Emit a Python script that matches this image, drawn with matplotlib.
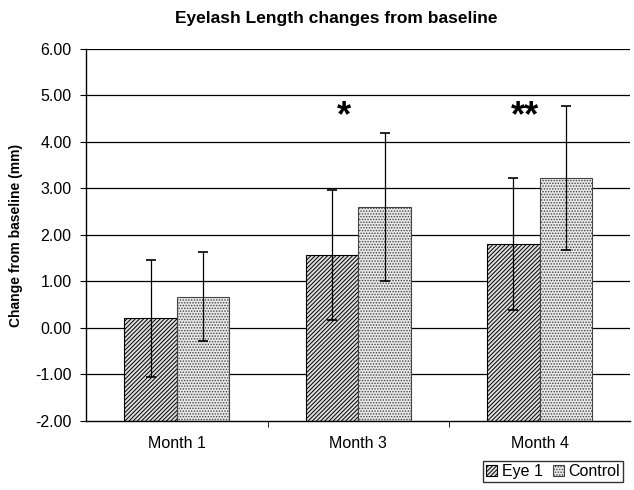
import numpy as np
import matplotlib
matplotlib.use("Agg")
import matplotlib.pyplot as plt

plt.rcParams['font.family'] = ['Liberation Sans', 'DejaVu Sans']
plt.rcParams['hatch.linewidth'] = 0.7

# data
months = ["Month 1", "Month 3", "Month 4"]
eye1 = [0.21, 1.57, 1.80]
eye1_err = [1.26, 1.40, 1.42]
control = [0.67, 2.60, 3.22]
control_err = [0.96, 1.60, 1.55]
stars = ["", "*", "**"]
yticks = [-2, -1, 0, 1, 2, 3, 4, 5, 6]

base = -2.0
w = 0.29
x = np.arange(len(months))

fig = plt.figure(figsize=(6.34, 4.90), dpi=100)
ax = fig.add_axes([0.136, 0.141, 0.858, 0.759])

for yv in yticks[1:]:
    ax.axhline(yv, color='black', lw=0.9, zorder=1)

b1 = ax.bar(x - w / 2, np.array(eye1) - base, w, bottom=base, facecolor='#dedede',
            edgecolor='black', hatch='////////', lw=0.8, zorder=2, label='Eye 1')
b2 = ax.bar(x + w / 2, np.array(control) - base, w, bottom=base, facecolor='#e8e8e8',
            edgecolor='#444444', hatch='......', lw=0.8, zorder=2, label='Control')
ax.errorbar(x - w / 2, eye1, yerr=eye1_err, fmt='none', ecolor='black',
            elinewidth=0.9, capsize=3.5, capthick=1.2, zorder=3)
ax.errorbar(x + w / 2, control, yerr=control_err, fmt='none', ecolor='black',
            elinewidth=0.9, capsize=3.5, capthick=1.2, zorder=3)

for i, s in enumerate(stars):
    if s:
        ax.text(x[i] - 0.08, 4.55, s, ha='center', va='center', fontsize=26,
                fontweight='bold')

ax.set_xlim(-0.5, 2.5)
ax.set_ylim(-2, 6)
ax.set_yticks(yticks)
ax.set_yticklabels([f"{v:.2f}" for v in yticks], fontsize=11.5)
ax.set_xticks(x)
ax.set_xticklabels(months, fontsize=11.5)
ax.tick_params(axis='x', length=0, pad=11)
ax.set_xticks([0.5, 1.5], minor=True)
ax.tick_params(axis='x', which='minor', length=4, direction='out')
ax.tick_params(axis='y', length=4, direction='out', pad=6.5)
for sp in ['top', 'right']:
    ax.spines[sp].set_visible(False)
ax.spines['left'].set_linewidth(1.0)
ax.spines['bottom'].set_linewidth(1.0)

ax.set_ylabel("Change from baseline (mm)", fontsize=10, fontweight='bold', labelpad=9)
fig.text(0.53, 0.963, "Eyelash Length changes from baseline", ha='center', va='center',
         fontsize=12.5, fontweight='bold')

fig.legend(handles=[b1, b2], loc='lower right', bbox_to_anchor=(0.996, 0.0),
           ncol=2, fontsize=11.5, frameon=True, fancybox=False, edgecolor='black',
           handlelength=0.7, handleheight=0.7, handletextpad=0.3, columnspacing=0.6,
           borderpad=0.2)

fig.savefig("out.png", dpi=100)
